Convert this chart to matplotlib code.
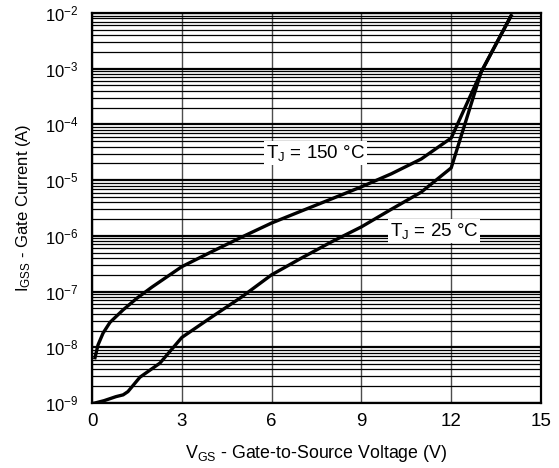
"""Gate leakage current vs gate-to-source voltage at two junction temperatures."""
import numpy as np
import matplotlib
matplotlib.use("Agg")
import matplotlib.pyplot as plt
from matplotlib.ticker import NullFormatter

plt.rcParams.update({
    "font.family": "sans-serif",
    "font.sans-serif": ["Liberation Sans", "DejaVu Sans"],
    "mathtext.fontset": "custom",
    "mathtext.rm": "Liberation Sans",
    "mathtext.it": "Liberation Sans",
    "font.size": 11,
})

# T_J = 150 C
vgs_150 = [0.1, 0.2, 0.37, 0.6, 1.04, 1.5, 2.0, 3.0, 4.0, 5.0, 6.0, 7.0,
           8.0, 9.0, 10.0, 11.0, 12.0, 13.0, 14.0]
igss_150 = [6.5e-9, 1.1e-8, 1.8e-8, 2.8e-8, 4.7e-8, 7.6e-8, 1.2e-7, 2.8e-7,
            5.2e-7, 9.5e-7, 1.7e-6, 2.8e-6, 4.6e-6, 7.6e-6, 1.3e-5, 2.4e-5,
            5.7e-5, 8.7e-4, 8.9e-3]

# T_J = 25 C
vgs_25 = [0.1, 0.4, 0.8, 1.04, 1.2, 1.6, 2.27, 3.0, 4.0, 5.0, 6.0, 7.0,
          8.0, 9.0, 10.0, 11.0, 12.0, 13.0, 14.0]
igss_25 = [1.0e-9, 1.1e-9, 1.3e-9, 1.4e-9, 1.6e-9, 2.9e-9, 5.2e-9, 1.5e-8,
           3.5e-8, 8.0e-8, 2.0e-7, 4.0e-7, 7.8e-7, 1.45e-6, 3.0e-6, 6.1e-6,
           1.66e-5, 8.7e-4, 8.9e-3]

x_ticks = [0, 3, 6, 9, 12, 15]
decades = list(range(-9, -1))  # 1e-9 .. 1e-2

fig = plt.figure(figsize=(5.59, 4.68), dpi=100)
ax = fig.add_axes([0.1646, 0.1389, 0.8032, 0.8333])

ax.set_yscale("log")
ax.set_xlim(0, 15)
ax.set_ylim(1e-9, 1e-2)
ax.set_xticks(x_ticks)
ax.set_yticks([10.0 ** d for d in decades],
              [rf"$10^{{{d}}}$" for d in decades])
ax.set_yticks([m * 10.0 ** d for d in decades[:-1] for m in range(2, 10)],
              minor=True)
ax.yaxis.set_minor_formatter(NullFormatter())

# grid: verticals at the x ticks, horizontals on every decade subdivision
ax.grid(True, which="major", axis="x", color="0.3", lw=1.0)
ax.grid(True, which="major", axis="y", color="black", lw=1.6)
ax.grid(True, which="minor", axis="y", color="black", lw=0.9)
ax.set_axisbelow(True)

ax.plot(vgs_150, igss_150, color="black", lw=2.4, solid_joinstyle="round")
ax.plot(vgs_25, igss_25, color="black", lw=2.4, solid_joinstyle="round")

box = dict(facecolor="white", edgecolor="none", pad=1.5)
ax.text(7.45, 3.1e-5, r"T$_{\mathregular{J}}$ = 150 °C", ha="center",
        va="center", fontsize=13.5, bbox=box)
ax.text(11.43, 1.23e-6, r"T$_{\mathregular{J}}$ = 25 °C", ha="center",
        va="center", fontsize=13.5, bbox=box)

ax.tick_params(which="both", length=0)
ax.tick_params(axis="x", pad=7, labelsize=13.5)
ax.tick_params(axis="y", pad=10, labelsize=12)
for sp in ax.spines.values():
    sp.set_linewidth(1.6)

ax.set_xlabel(r"V$_{\mathregular{GS}}$ - Gate-to-Source Voltage (V)", fontsize=12.8)
ax.set_ylabel(r"I$_{\mathregular{GSS}}$ - Gate Current (A)", fontsize=12)
ax.xaxis.set_label_coords(0.5, -0.103)
ax.yaxis.set_label_coords(-0.132, 0.5)

fig.savefig("out.png", dpi=100)
